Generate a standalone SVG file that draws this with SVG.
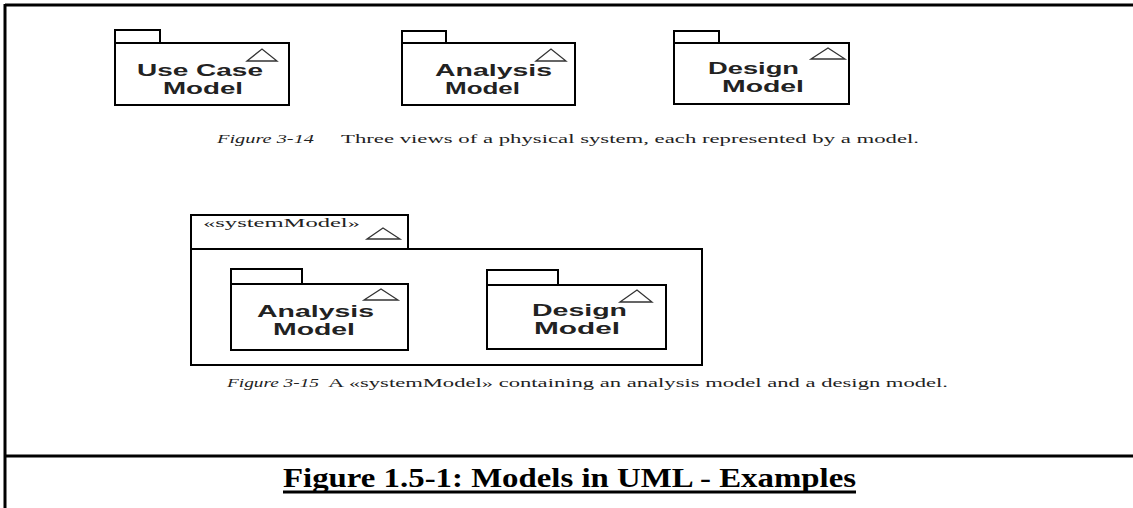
<svg xmlns="http://www.w3.org/2000/svg" width="1133" height="508" viewBox="0 0 1133 508">
<style>
.pk{fill:none;stroke:#000;stroke-width:2}
.tri{fill:none;stroke:#333;stroke-width:1.3}
.frame{stroke:#000;stroke-width:3;fill:none}
.lbl{font-family:"Liberation Sans",Arial,sans-serif;font-weight:bold;font-size:17px;fill:#222}
.cap{font-family:"Liberation Serif","Times New Roman",serif;font-size:12px;fill:#222}
.it{font-style:italic}
.title{font-family:"Liberation Serif","Times New Roman",serif;font-weight:bold;font-size:28px;fill:#000}
</style>
<rect width="1133" height="508" fill="#fff"/>
<g id="frame">
<line class="frame" x1="5" y1="5" x2="1133" y2="5"/>
<line class="frame" x1="5" y1="4" x2="5" y2="508"/>
<line class="frame" x1="5" y1="456" x2="1133" y2="456"/>
</g>
<g id="useCaseModel">
<path class="pk" d="M115,43 V30 H160 V43"/>
<rect class="pk" x="115" y="43" width="174" height="62"/>
<path class="tri" d="M247,61 L262,49 L277,61 Z"/>
<text class="lbl" x="137" y="76" textLength="126" lengthAdjust="spacingAndGlyphs">Use Case</text>
<text class="lbl" x="163" y="94" textLength="80" lengthAdjust="spacingAndGlyphs">Model</text>
</g>
<g id="analysisModel">
<path class="pk" d="M402,43 V31 H446 V43"/>
<rect class="pk" x="402" y="43" width="173" height="62"/>
<path class="tri" d="M536,61 L551,49 L566,61 Z"/>
<text class="lbl" x="435" y="76" textLength="117" lengthAdjust="spacingAndGlyphs">Analysis</text>
<text class="lbl" x="445" y="94" textLength="75" lengthAdjust="spacingAndGlyphs">Model</text>
</g>
<g id="designModel">
<path class="pk" d="M674,43 V31 H719 V43"/>
<rect class="pk" x="674" y="43" width="175" height="61"/>
<path class="tri" d="M811,59 L828,48 L845,59 Z"/>
<text class="lbl" x="708" y="74" textLength="91" lengthAdjust="spacingAndGlyphs">Design</text>
<text class="lbl" x="722" y="92" textLength="82" lengthAdjust="spacingAndGlyphs">Model</text>
</g>
<g id="caption314">
<text class="cap it" x="217" y="143" textLength="97" lengthAdjust="spacingAndGlyphs">Figure 3-14</text>
<text class="cap" x="341" y="143" textLength="578" lengthAdjust="spacingAndGlyphs">Three views of a physical system, each represented by a model.</text>
</g>
<g id="systemModel">
<path class="pk" d="M191,249 V215 H408 V249"/>
<rect class="pk" x="191" y="249" width="511" height="116"/>
<path class="tri" d="M367,239 L383,228 L400,239 Z"/>
<text class="cap" x="203" y="227" textLength="157" lengthAdjust="spacingAndGlyphs">«systemModel»</text>
</g>
<g id="innerAnalysisModel">
<path class="pk" d="M231,284 V269 H302 V284"/>
<rect class="pk" x="231" y="284" width="177" height="66"/>
<path class="tri" d="M364,300 L381,289 L398,300 Z"/>
<text class="lbl" x="257" y="317" textLength="117" lengthAdjust="spacingAndGlyphs">Analysis</text>
<text class="lbl" x="273" y="335" textLength="82" lengthAdjust="spacingAndGlyphs">Model</text>
</g>
<g id="innerDesignModel">
<path class="pk" d="M487,285 V270 H558 V285"/>
<rect class="pk" x="487" y="285" width="179" height="64"/>
<path class="tri" d="M620,302 L637,290 L652,302 Z"/>
<text class="lbl" x="532" y="316" textLength="95" lengthAdjust="spacingAndGlyphs">Design</text>
<text class="lbl" x="534" y="334" textLength="86" lengthAdjust="spacingAndGlyphs">Model</text>
</g>
<g id="caption315">
<text class="cap it" x="227" y="387" textLength="92" lengthAdjust="spacingAndGlyphs">Figure 3-15</text>
<text class="cap" x="328" y="387" textLength="620" lengthAdjust="spacingAndGlyphs">A «systemModel» containing an analysis model and a design model.</text>
</g>
<g id="connectors"></g>
<g id="title">
<text class="title" x="283" y="487" textLength="573" lengthAdjust="spacingAndGlyphs">Figure 1.5-1: Models in UML - Examples</text>
<line x1="283" y1="492" x2="856" y2="492" stroke="#000" stroke-width="3"/>
</g>
</svg>
